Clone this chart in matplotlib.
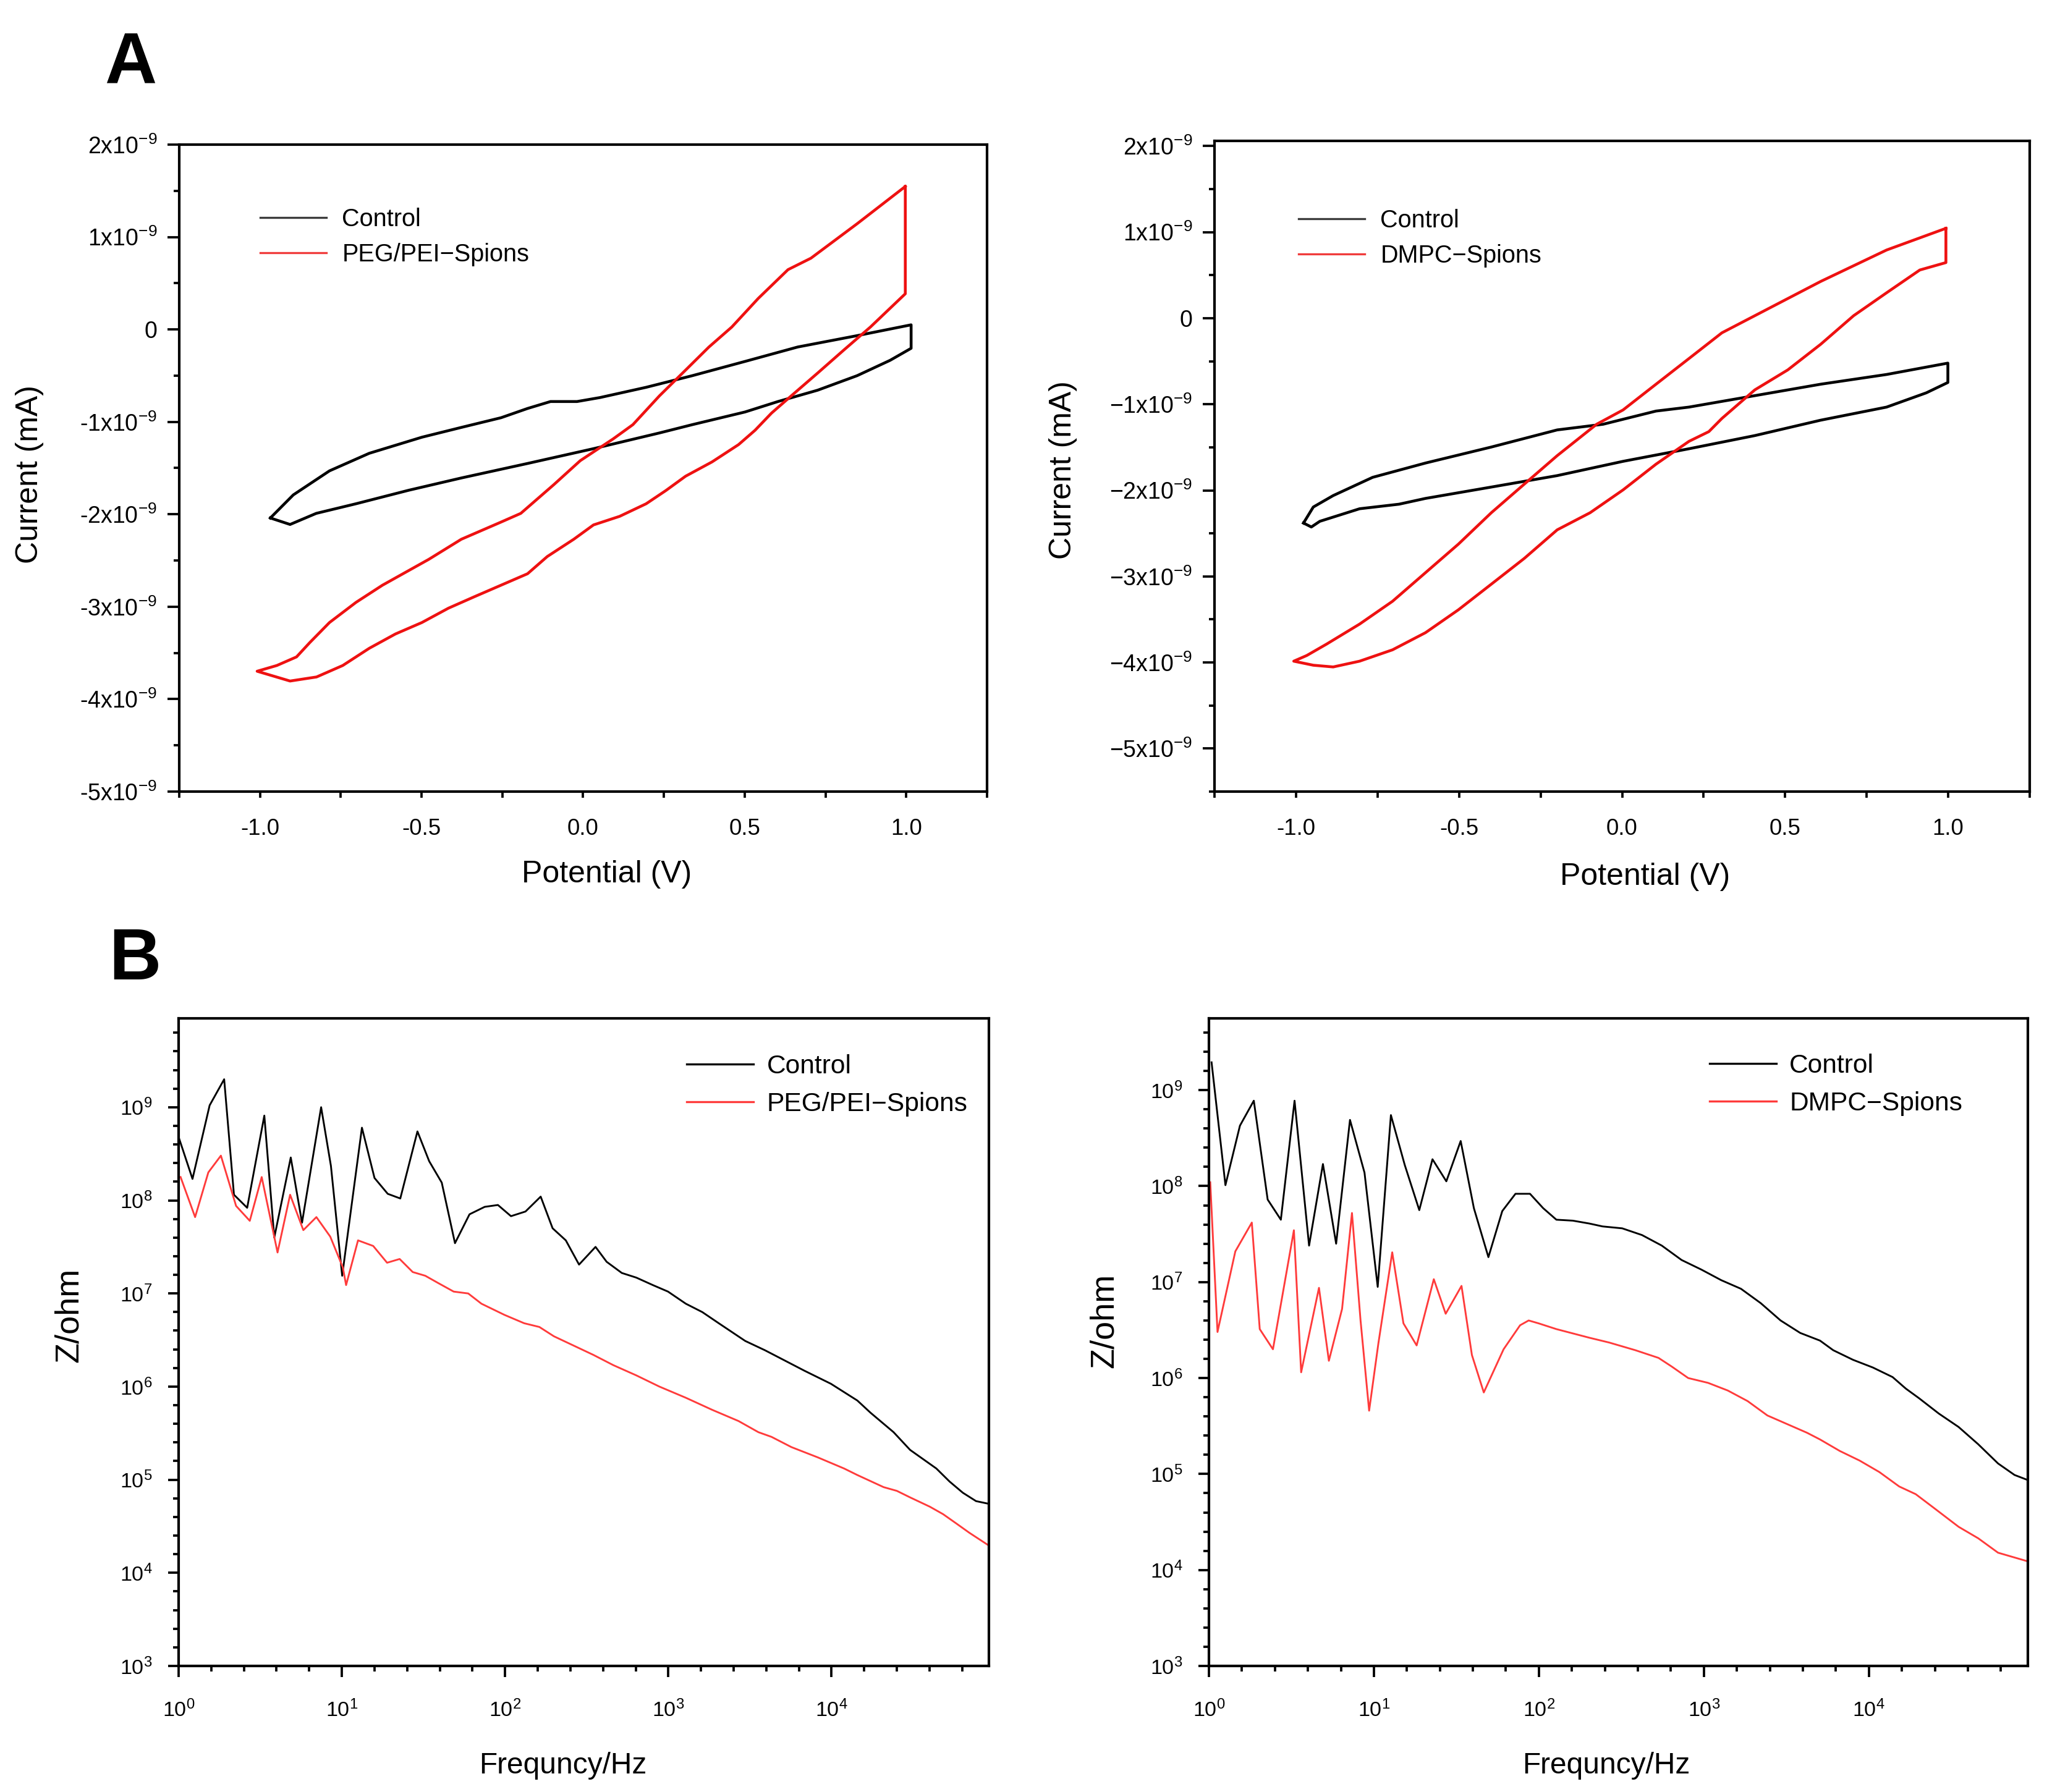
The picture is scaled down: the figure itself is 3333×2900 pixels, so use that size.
import numpy as np
import matplotlib
matplotlib.use('Agg')
import matplotlib.pyplot as plt
from matplotlib.lines import Line2D
from matplotlib.ticker import NullFormatter

plt.rcParams.update({
    'font.family': ['Liberation Sans', 'DejaVu Sans'],
    'mathtext.fontset': 'custom',
    'mathtext.rm': 'Liberation Sans',
    'mathtext.it': 'Liberation Sans:italic',
    'mathtext.bf': 'Liberation Sans:bold',
    'mathtext.default': 'regular',
    'axes.linewidth': 1.0,
})

# ---------------- data: cyclic voltammetry (current in units of 1e-9) ----------------
# PEG/PEI panel
cv1_ctrl_v = [-0.968, -0.897, -0.785, -0.662, -0.499, -0.377, -0.254, -0.172, -0.101, -0.019,
              0.052, 0.195, 0.338, 0.501, 0.664, 0.848, 1.015, 1.015, 0.950, 0.848, 0.726,
              0.603, 0.501, 0.338, 0.236, 0.032, -0.172, -0.377, -0.540, -0.703, -0.826,
              -0.907, -0.968]
cv1_ctrl_i = [-2.04, -1.79, -1.53, -1.34, -1.166, -1.06, -0.955, -0.855, -0.78, -0.78,
              -0.737, -0.626, -0.50, -0.346, -0.19, -0.067, 0.05, -0.204, -0.334, -0.50, -0.657,
              -0.78, -0.893, -1.03, -1.12, -1.29, -1.45, -1.607, -1.74, -1.886, -1.99,
              -2.11, -2.04]
cv1_np_v = [0.997, 0.848, 0.705, 0.634, 0.542, 0.460, 0.389, 0.317, 0.236, 0.154, 0.093,
            -0.009, -0.091, -0.193, -0.254, -0.377, -0.478, -0.621, -0.703, -0.785, -0.846,
            -0.887, -0.948, -1.009,
            -0.907, -0.825, -0.744, -0.662, -0.581, -0.499, -0.417, -0.336, -0.254, -0.172,
            -0.111, -0.029, 0.032, 0.113, 0.195, 0.256, 0.317, 0.399, 0.481, 0.532, 0.583,
            0.644, 0.726, 0.807, 0.889, 0.997, 0.997]
cv1_np_i = [1.547, 1.144, 0.771, 0.647, 0.336, 0.026, -0.191, -0.44, -0.719, -1.03, -1.184,
            -1.42, -1.68, -1.99, -2.084, -2.27, -2.488, -2.767, -2.953, -3.171, -3.388,
            -3.543, -3.636, -3.698,
            -3.804, -3.76, -3.636, -3.45, -3.295, -3.171, -3.016, -2.891, -2.767, -2.643,
            -2.457, -2.27, -2.115, -2.022, -1.886, -1.743, -1.588, -1.433, -1.246, -1.091, -0.905,
            -0.719, -0.471, -0.222, 0.026, 0.386, 1.547]

# DMPC panel
cv2_ctrl_v = [-0.977, -0.947, -0.886, -0.765, -0.603, -0.401, -0.199, -0.058, 0.104, 0.205,
              0.407, 0.609, 0.811, 0.999, 0.999, 0.933, 0.811, 0.609, 0.407, 0.205, 0.003,
              -0.199, -0.401, -0.603, -0.684, -0.805, -0.927, -0.953, -0.977]
cv2_ctrl_i = [-2.38, -2.194, -2.061, -1.849, -1.683, -1.497, -1.298, -1.232, -1.079, -1.033,
              -0.90, -0.767, -0.654, -0.522, -0.747, -0.867, -1.033, -1.185, -1.364, -1.517, -1.663,
              -1.829, -1.962, -2.094, -2.161, -2.214, -2.36, -2.426, -2.38]
cv2_np_v = [0.993, 0.811, 0.609, 0.508, 0.407, 0.306, 0.205, 0.104, 0.003, -0.078, -0.199,
            -0.300, -0.401, -0.502, -0.603, -0.704, -0.805, -0.906, -0.967, -1.007,
            -0.947, -0.886, -0.805, -0.704, -0.603, -0.502, -0.401, -0.300, -0.199, -0.098,
            0.003, 0.104, 0.205, 0.266, 0.306, 0.407, 0.508, 0.609, 0.710, 0.811, 0.913,
            0.993, 0.993]
cv2_np_i = [1.044, 0.792, 0.427, 0.228, 0.029, -0.17, -0.469, -0.767, -1.066, -1.232, -1.597,
            -1.928, -2.26, -2.625, -2.957, -3.289, -3.554, -3.786, -3.919, -3.985,
            -4.032, -4.052, -3.985, -3.853, -3.654, -3.388, -3.09, -2.791, -2.459, -2.26,
            -1.995, -1.696, -1.431, -1.318, -1.165, -0.833, -0.601, -0.303, 0.029, 0.295, 0.56,
            0.646, 1.044]

# ---------------- data: impedance (log10 frequency / Hz, log10 Z / ohm) ----------------
eis1_ctrl_lf = [0.00, 0.085, 0.19, 0.279, 0.339, 0.42, 0.525, 0.586, 0.687, 0.756, 0.873, 0.933,
                1.002, 1.123, 1.20, 1.281, 1.358, 1.463, 1.535, 1.612, 1.693, 1.782, 1.875, 1.956,
                2.036, 2.125, 2.218, 2.291, 2.372, 2.453, 2.554, 2.622, 2.715, 2.804, 2.905, 2.998,
                3.107, 3.208, 3.309, 3.471, 3.592, 3.713, 3.834, 3.996, 4.158, 4.238, 4.38, 4.481,
                4.642, 4.723, 4.804, 4.885, 4.966]
eis1_ctrl_lz = [8.68, 8.23, 9.02, 9.30, 8.06, 7.92, 8.91, 7.60, 8.46, 7.76, 9.00, 8.37,
                7.19, 8.78, 8.24, 8.07, 8.02, 8.74, 8.42, 8.19, 7.54, 7.85, 7.93, 7.95,
                7.83, 7.88, 8.04, 7.70, 7.57, 7.31, 7.50, 7.34, 7.22, 7.17, 7.09, 7.02,
                6.89, 6.80, 6.68, 6.49, 6.39, 6.28, 6.17, 6.03, 5.85, 5.72, 5.51, 5.32,
                5.12, 4.98, 4.86, 4.77, 4.74]
eis1_np_lf = [0.012, 0.101, 0.182, 0.259, 0.352, 0.436, 0.509, 0.606, 0.683, 0.764, 0.844, 0.929,
              1.006, 1.026, 1.099, 1.192, 1.277, 1.354, 1.434, 1.511, 1.592, 1.685, 1.774, 1.855,
              1.996, 2.117, 2.21, 2.299, 2.42, 2.541, 2.663, 2.804, 2.945, 3.107, 3.269, 3.43,
              3.552, 3.632, 3.754, 3.915, 4.077, 4.158, 4.319, 4.40, 4.481, 4.602, 4.683, 4.764,
              4.844, 4.966]
eis1_np_lz = [8.25, 7.82, 8.30, 8.48, 7.94, 7.78, 8.25, 7.44, 8.06, 7.68, 7.82, 7.61,
              7.28, 7.09, 7.57, 7.51, 7.33, 7.37, 7.23, 7.19, 7.11, 7.02, 7.00, 6.89,
              6.77, 6.68, 6.64, 6.54, 6.44, 6.34, 6.23, 6.12, 6.00, 5.88, 5.75, 5.63,
              5.51, 5.46, 5.35, 5.24, 5.12, 5.05, 4.92, 4.88, 4.81, 4.71, 4.63, 4.53,
              4.43, 4.29]

eis2_ctrl_lf = [0.016, 0.10, 0.188, 0.272, 0.356, 0.436, 0.519, 0.607, 0.691, 0.771, 0.855, 0.943,
                1.023, 1.103, 1.187, 1.275, 1.355, 1.439, 1.526, 1.606, 1.694, 1.778, 1.858, 1.946,
                2.026, 2.106, 2.206, 2.306, 2.386, 2.505, 2.625, 2.745, 2.865, 2.985, 3.105, 3.225,
                3.345, 3.465, 3.584, 3.704, 3.784, 3.904, 4.024, 4.144, 4.224, 4.304, 4.424, 4.544,
                4.663, 4.783, 4.883, 4.959]
eis2_ctrl_lz = [9.29, 8.01, 8.63, 8.89, 7.86, 7.65, 8.89, 7.38, 8.23, 7.40, 8.69, 8.14,
                6.95, 8.74, 8.22, 7.75, 8.28, 8.05, 8.47, 7.77, 7.26, 7.74, 7.92, 7.92,
                7.77, 7.65, 7.64, 7.61, 7.58, 7.56, 7.49, 7.38, 7.23, 7.13, 7.02, 6.93,
                6.78, 6.60, 6.47, 6.39, 6.29, 6.19, 6.11, 6.01, 5.89, 5.79, 5.63, 5.49,
                5.31, 5.11, 4.99, 4.94]
eis2_np_lf = [0.008, 0.052, 0.16, 0.26, 0.308, 0.388, 0.515, 0.559, 0.667, 0.727, 0.807, 0.867,
              0.919, 0.971, 1.027, 1.111, 1.179, 1.259, 1.363, 1.435, 1.531, 1.594, 1.666, 1.786,
              1.886, 1.938, 1.998, 2.106, 2.306, 2.426, 2.585, 2.725, 2.805, 2.905, 3.025, 3.145,
              3.265, 3.385, 3.505, 3.625, 3.704, 3.824, 3.944, 4.064, 4.184, 4.284, 4.384, 4.544,
              4.663, 4.783, 4.863, 4.983]
eis2_np_lz = [8.04, 6.48, 7.32, 7.62, 6.51, 6.30, 7.54, 6.06, 6.94, 6.18, 6.72, 7.72,
              6.60, 5.66, 6.36, 7.31, 6.57, 6.34, 7.03, 6.67, 6.96, 6.24, 5.85, 6.30,
              6.55, 6.60, 6.57, 6.51, 6.42, 6.37, 6.29, 6.21, 6.12, 6.00, 5.95, 5.87,
              5.76, 5.61, 5.52, 5.43, 5.36, 5.24, 5.14, 5.02, 4.87, 4.79, 4.66, 4.45,
              4.33, 4.18, 4.14, 4.08]

# ---------------- tick labels ----------------
cv_ticks = [-5, -4, -3, -2, -1, 0, 1, 2]
cv1_ticklabels = ['0' if t == 0 else '%dx10$^{-9}$' % t for t in cv_ticks]
cv2_ticklabels = [s.replace('-', '\u2212', 1) if s.startswith('-') else s for s in cv1_ticklabels]
pot_ticks = [-1.0, -0.5, 0.0, 0.5, 1.0]
pot_ticklabels = ['-1.0', '-0.5', '0.0', '0.5', '1.0']
freq_exps = [0, 1, 2, 3, 4]
z_exps = [3, 4, 5, 6, 7, 8, 9]

RED_CV = '#ee1111'
RED_EIS = '#ff3b3b'

W, H = 3333, 2900
fig = plt.figure(figsize=(W / 300, H / 300), dpi=300)


def px_rect(l, t, r, b):
    return [l / W, 1 - b / H, (r - l) / W, (b - t) / H]


def legend(ax, labels, colors, anchor, fs, spacing, hlen, hpad):
    handles = [Line2D([], [], color=c, lw=0.8) for c in colors]
    ax.legend(handles, labels, loc='upper left', bbox_to_anchor=anchor, frameon=False,
              fontsize=fs, handlelength=hlen, handletextpad=hpad, labelspacing=spacing,
              borderpad=0, borderaxespad=0)


def cv_panel(rect, v_c, i_c, v_n, i_n, ylim, yticklabels, label, leg_anchor, ylab_xy, xlab_xy):
    ax = fig.add_axes(rect)
    ax.plot(v_c, np.array(i_c) * 1e-9, color='black', lw=1.1, solid_joinstyle='round')
    ax.plot(v_n, np.array(i_n) * 1e-9, color=RED_CV, lw=1.1, solid_joinstyle='round')
    ax.set_xlim(-1.25, 1.25)
    ax.set_ylim(ylim[0] * 1e-9, ylim[1] * 1e-9)
    ax.set_yticks([t * 1e-9 for t in cv_ticks])
    ax.set_yticklabels(yticklabels)
    ax.set_yticks([(t + 0.5) * 1e-9 for t in range(-6, 2) if ylim[0] <= t + 0.5 <= ylim[1]], minor=True)
    ax.set_xticks(pot_ticks)
    ax.set_xticklabels(pot_ticklabels)
    ax.set_xticks([-1.25, -0.75, -0.25, 0.25, 0.75, 1.25], minor=True)
    ax.tick_params(axis='y', which='major', direction='out', length=4.6, width=0.9, pad=4, labelsize=9)
    ax.tick_params(axis='y', which='minor', direction='out', length=2.2, width=0.9)
    ax.tick_params(axis='x', which='both', direction='out', length=2.4, width=0.9, pad=8, labelsize=8.8)
    ax.set_ylabel('Current (mA)', fontsize=12)
    ax.set_xlabel('Potential (V)', fontsize=12)
    ax.yaxis.label.set_va('center')
    ax.xaxis.label.set_va('center')
    ax.yaxis.set_label_coords(*ylab_xy)
    ax.xaxis.set_label_coords(*xlab_xy)
    legend(ax, ['Control', label], ['#3c3c3c', '#f03c3c'], leg_anchor, 9.5, 0.48, 2.7, 0.65)
    return ax


def eis_panel(rect, lf_c, lz_c, lf_n, lz_n, ylim_top, label, leg_anchor, ylab_xy, xlab_xy):
    ax = fig.add_axes(rect)
    ax.plot(10 ** np.array(lf_c), 10 ** np.array(lz_c), color='black', lw=0.7)
    ax.plot(10 ** np.array(lf_n), 10 ** np.array(lz_n), color=RED_EIS, lw=0.7)
    ax.set_xscale('log')
    ax.set_yscale('log')
    ax.set_xlim(1, 9.2e4)
    ax.set_ylim(1e3, ylim_top)
    ax.set_xticks([10.0 ** e for e in freq_exps])
    ax.set_xticklabels(['$10^{%d}$' % e for e in freq_exps])
    ax.set_yticks([10.0 ** e for e in z_exps])
    ax.set_yticklabels(['$10^{%d}$' % e for e in z_exps])
    xmin = [10 ** (d + k / 5) for d in range(0, 5) for k in range(1, 5)]
    ymin = [10 ** (d + k / 5) for d in range(3, 10) for k in range(1, 5)]
    ax.set_xticks([t for t in xmin if t < 9.2e4], minor=True)
    ax.set_yticks([t for t in ymin if t < ylim_top], minor=True)
    ax.xaxis.set_minor_formatter(NullFormatter())
    ax.yaxis.set_minor_formatter(NullFormatter())
    ax.tick_params(axis='both', which='major', direction='out', length=4.2, width=0.9, labelsize=8.2)
    ax.tick_params(axis='both', which='minor', direction='out', length=2.2, width=0.9)
    ax.tick_params(axis='x', which='major', pad=9)
    ax.tick_params(axis='y', which='major', pad=6)
    ax.set_ylabel('Z/ohm', fontsize=13)
    ax.set_xlabel('Frequncy/Hz', fontsize=11.5)
    ax.yaxis.label.set_va('center')
    ax.xaxis.label.set_va('center')
    ax.yaxis.set_label_coords(*ylab_xy)
    ax.xaxis.set_label_coords(*xlab_xy)
    legend(ax, ['Control', label], ['black', RED_EIS], leg_anchor, 10.2, 0.5, 2.55, 0.5)
    return ax


cv_panel(px_rect(290, 234, 1597, 1281), cv1_ctrl_v, cv1_ctrl_i, cv1_np_v, cv1_np_i,
         (-5.0, 2.0), cv1_ticklabels, 'PEG/PEI\u2212Spions', (0.100, 0.903),
         (-0.185, 0.49), (0.529, -0.128))
cv_panel(px_rect(1965, 228, 3284, 1281), cv2_ctrl_v, cv2_ctrl_i, cv2_np_v, cv2_np_i,
         (-5.5, 2.06), cv2_ticklabels, 'DMPC\u2212Spions', (0.103, 0.896),
         (-0.186, 0.494), (0.528, -0.131))
eis_panel(px_rect(289, 1648, 1600, 2696), eis1_ctrl_lf, eis1_ctrl_lz, eis1_np_lf, eis1_np_lz,
          9e9, 'PEG/PEI\u2212Spions', (0.627, 0.945), (-0.135, 0.542), (0.474, -0.154))
eis_panel(px_rect(1956, 1648, 3281, 2696), eis2_ctrl_lf, eis2_ctrl_lz, eis2_np_lf, eis2_np_lz,
          5.6e9, 'DMPC\u2212Spions', (0.611, 0.946), (-0.128, 0.533), (0.485, -0.154))

fig.text(169 / W, 1 - 134 / H, 'A', fontsize=28, fontweight='bold', ha='left', va='baseline')
fig.text(176 / W, 1 - 1585 / H, 'B', fontsize=28, fontweight='bold', ha='left', va='baseline')

fig.savefig('out.png', dpi=300)
